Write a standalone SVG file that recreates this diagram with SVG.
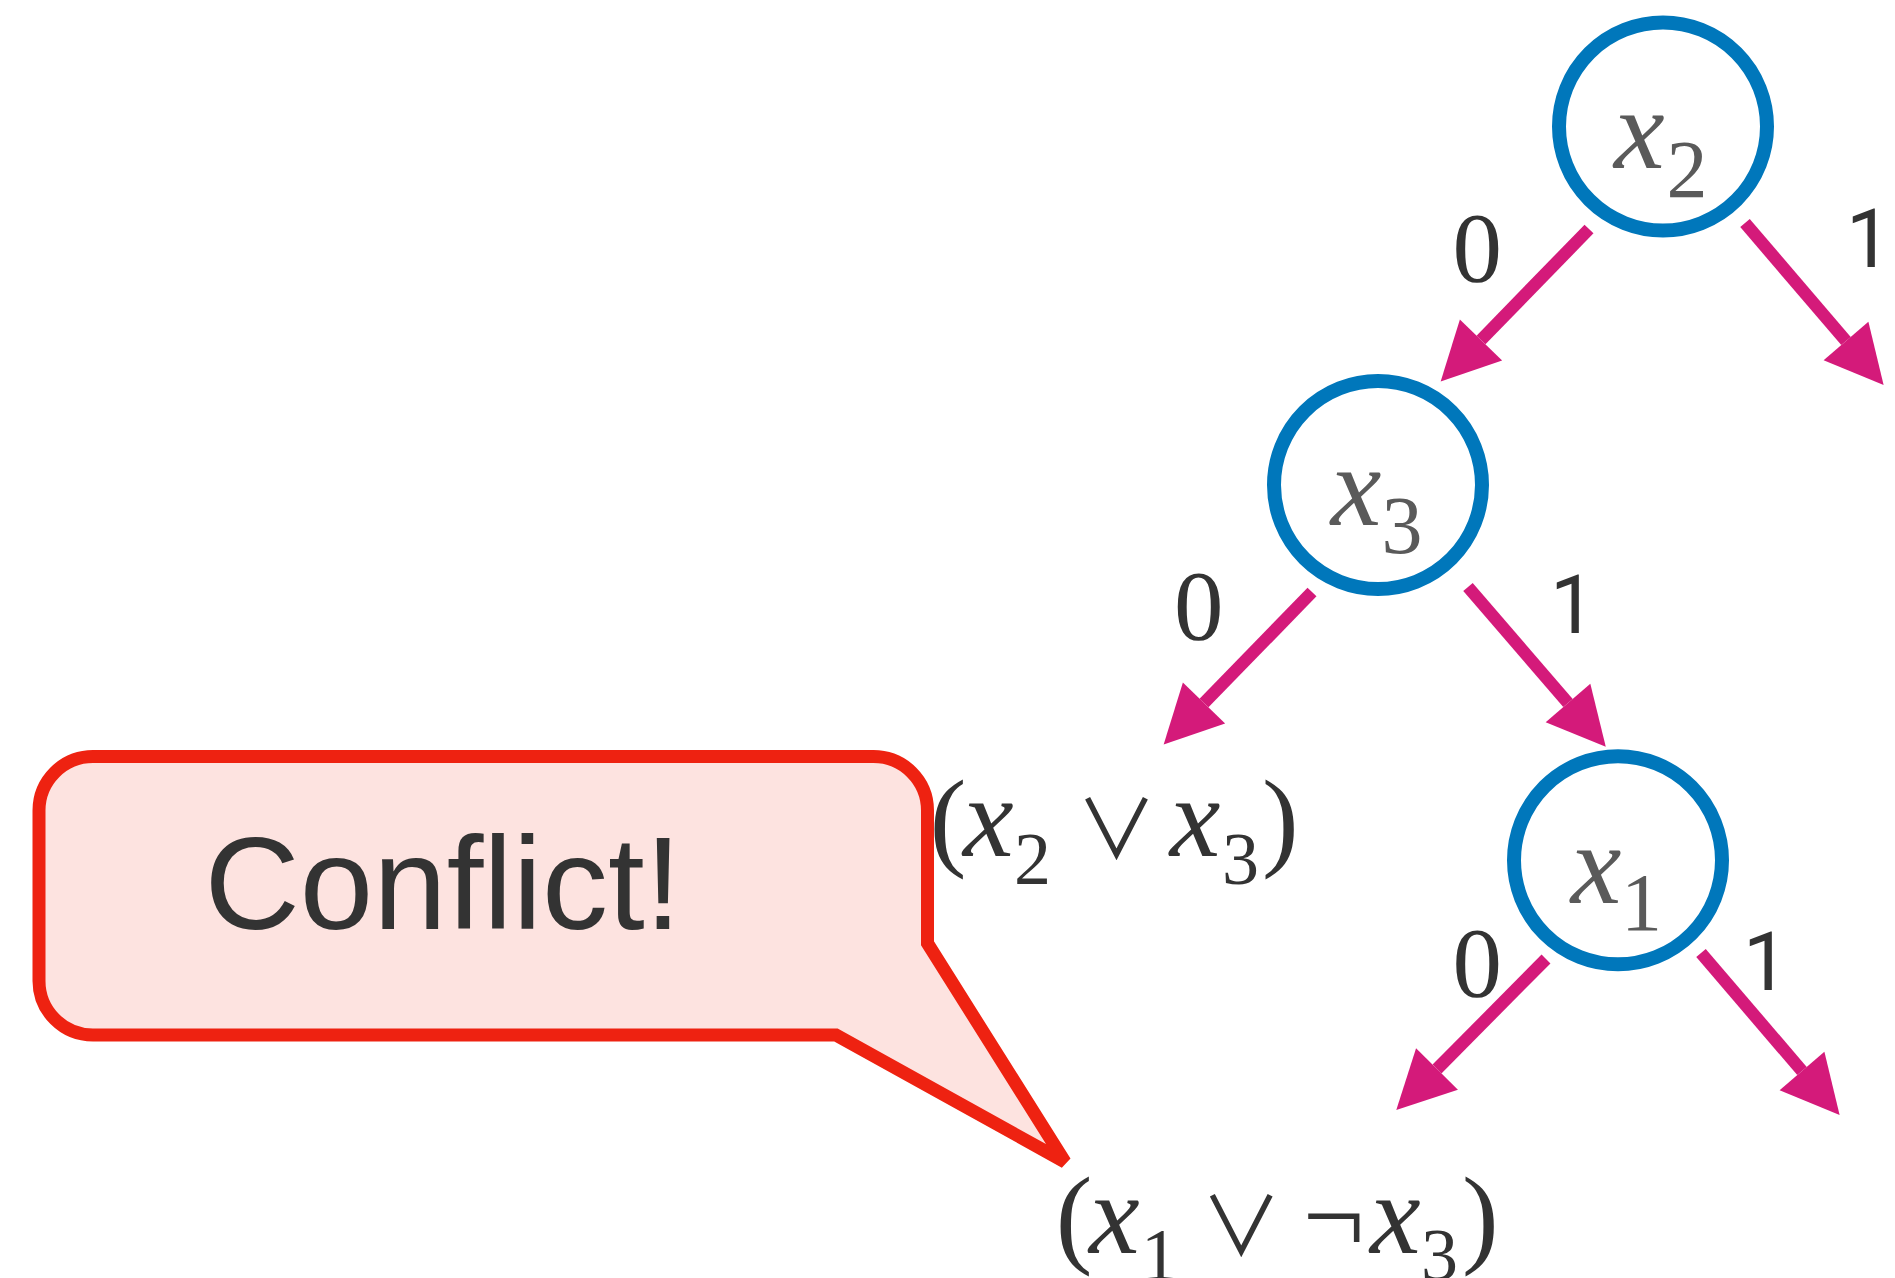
<svg xmlns="http://www.w3.org/2000/svg" width="1895" height="1278" viewBox="0 0 1895 1278">
<defs>
<style>
.node{fill:#ffffff;stroke:#0077bb;stroke-width:14}
.nl{font-family:"Liberation Serif",serif;fill:#5a5a5a}
.it{font-style:italic;font-size:114px}
.sb{font-size:82px}
.edge{stroke:#d41a7a;stroke-width:12.5;fill:none}
.zero{font-family:"Liberation Serif",serif;font-size:99px;fill:#333333}
.digit1{font-family:Roboto,"Liberation Sans",sans-serif;font-size:81px;fill:#333333}
.cl{font-family:"Liberation Serif",serif;fill:#333333}
.cit{font-style:italic;font-size:114px}
.csb{font-size:74px}
.op{font-family:"Noto Sans CJK JP","DejaVu Sans",sans-serif;font-weight:400;font-size:81px}
.callout{fill:#fde3e0;stroke:#ee2211;stroke-width:13}
.ct{font-family:"Liberation Sans",sans-serif;font-size:132px;fill:#333333}
</style>
<marker id="ah" markerUnits="userSpaceOnUse" markerWidth="60" markerHeight="60" viewBox="0 -28 54 56" refX="0" refY="0" orient="auto">
<path d="M0,-27.5 L54,0 L0,27.5 Z" fill="#d41a7a"/>
</marker>
</defs>

<g id="connectors">
<line class="edge" x1="1589" y1="229" x2="1481" y2="340" marker-end="url(#ah)"/>
<line class="edge" x1="1745" y1="223" x2="1846" y2="341" marker-end="url(#ah)"/>
<line class="edge" x1="1312" y1="592" x2="1204" y2="703" marker-end="url(#ah)"/>
<line class="edge" x1="1468" y1="587" x2="1568" y2="703" marker-end="url(#ah)"/>
<line class="edge" x1="1546" y1="959" x2="1437" y2="1069" marker-end="url(#ah)"/>
<line class="edge" x1="1701" y1="953" x2="1802" y2="1071" marker-end="url(#ah)"/>
</g>

<g id="edge-labels">
<text class="zero" x="1452.6" y="280.6">0</text>
<text class="digit1" x="1846" y="267">1</text>
<text class="zero" x="1174" y="638.6">0</text>
<text class="digit1" x="1550" y="633">1</text>
<text class="zero" x="1452.6" y="995.6">0</text>
<text class="digit1" x="1743" y="990">1</text>
</g>

<g id="node-x2">
<circle class="node" cx="1663" cy="126.5" r="104"/>
<text class="nl"><tspan class="it" x="1614" y="168">x</tspan><tspan class="sb" x="1666.5" y="197">2</tspan></text>
</g>

<g id="node-x3">
<circle class="node" cx="1378" cy="485" r="104"/>
<text class="nl"><tspan class="it" x="1330.7" y="525">x</tspan><tspan class="sb" x="1381.6" y="553">3</tspan></text>
</g>

<g id="node-x1">
<circle class="node" cx="1618" cy="860.3" r="104"/>
<text class="nl"><tspan class="it" x="1570.7" y="903">x</tspan><tspan class="sb" x="1621" y="930">1</tspan></text>
</g>

<g id="clause-1">
<text class="cl"><tspan font-size="110" x="929.7" y="855.5">(</tspan><tspan class="cit" x="963" y="856">x</tspan><tspan class="csb" x="1014" y="884">2</tspan><tspan class="op" x="1076" y="857.5">∨</tspan><tspan class="cit" x="1169.7" y="856">x</tspan><tspan class="csb" x="1222" y="884">3</tspan><tspan font-size="110" x="1262" y="855.5">)</tspan></text>
</g>

<g id="clause-2">
<text class="cl"><tspan font-size="110" x="1055.7" y="1253">(</tspan><tspan class="cit" x="1089" y="1253">x</tspan><tspan class="csb" x="1141" y="1280">1</tspan><tspan class="op" x="1200.8" y="1254.5">∨</tspan><tspan font-size="110" x="1302.7" y="1253">¬</tspan><tspan class="cit" x="1370" y="1253">x</tspan><tspan class="csb" x="1421" y="1280">3</tspan><tspan font-size="110" x="1462" y="1253">)</tspan></text>
</g>

<g id="callout">
<path class="callout" d="M93,756.5 H873.5 A54,54 0 0 1 927.5,810.5 V943.3 L1065,1162 L836,1035 H93 A54,54 0 0 1 39,981 V810.5 A54,54 0 0 1 93,756.5 Z"/>
<text class="ct" x="204.5" y="929">Conflict!</text>
</g>
</svg>
